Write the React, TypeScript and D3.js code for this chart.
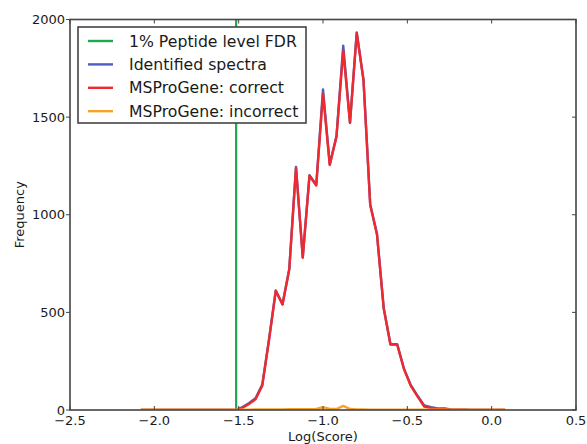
import React, { useEffect, useRef } from "react";
import * as d3 from "d3";

const W = 587;
const H = 444;

const binCenters = [
  -2.08, -2.04, -2.0, -1.96, -1.92, -1.88, -1.84, -1.8, -1.76, -1.72, -1.68, -1.64, -1.6, -1.56, -1.52,
  -1.48, -1.44, -1.4, -1.36, -1.32, -1.28, -1.24, -1.2, -1.16, -1.12, -1.08, -1.04, -1.0, -0.96, -0.92,
  -0.88, -0.84, -0.8, -0.76, -0.72, -0.68, -0.64, -0.6, -0.56, -0.52, -0.48, -0.44, -0.4, -0.36, -0.32,
  -0.28, -0.24, -0.2, -0.16, -0.12, -0.08, -0.04, 0.0, 0.04, 0.08,
];

const identifiedSpectra = [
  0, 0, 0, 0, 0, 0, 0, 0, 0, 0, 0, 0, 0, 0, 0,
  14, 35, 60, 130, 362, 612, 542, 722, 1245, 782, 1203, 1153, 1642, 1258, 1403,
  1866, 1472, 1934, 1692, 1052, 902, 522, 337, 337, 212, 128, 74, 24, 14, 8,
  8, 3, 2, 1, 0, 0, 0, 0, 0, 0,
];

const correctHits = [
  0, 0, 0, 0, 0, 0, 0, 0, 0, 0, 0, 0, 0, 0, 0,
  10, 30, 55, 125, 360, 610, 540, 720, 1240, 780, 1200, 1150, 1620, 1255, 1400,
  1840, 1470, 1930, 1690, 1050, 900, 520, 335, 335, 210, 125, 70, 18, 10, 4,
  6, 2, 2, 1, 0, 0, 0, 0, 0, 0,
];

const incorrectHits = [
  1, 1, 1, 1, 1, 1, 1, 1, 1, 1, 1, 1, 1, 1, 1,
  2, 2, 3, 3, 3, 3, 3, 4, 4, 4, 4, 5, 14, 5, 5,
  21, 5, 3, 3, 2, 2, 2, 2, 2, 1, 1, 1, 1, 1, 1,
  1, 1, 1, 1, 1, 1, 1, 1, 1, 1,
];

const fdrThreshold = -1.515;

const xTicks = [-2.5, -2.0, -1.5, -1.0, -0.5, 0.0, 0.5];
const yTicks = [0, 500, 1000, 1500, 2000];

const legendLabels = [
  "1% Peptide level FDR",
  "Identified spectra",
  "MSProGene: correct",
  "MSProGene: incorrect",
];
const seriesColors = ["#1fa84f", "#4a5fc1", "#ee2a2e", "#f9a12a"];

export default function App() {
  const ref = useRef<SVGSVGElement | null>(null);

  useEffect(() => {
    const svg = d3.select(ref.current);
    svg.selectAll("*").remove();

    const m = { left: 70, right: 576, top: 19.5, bottom: 410 };
    const x = d3.scaleLinear().domain([-2.5, 0.5]).range([m.left, m.right]);
    const y = d3.scaleLinear().domain([0, 2000]).range([m.bottom, m.top]);
    const font = "DejaVu Sans";
    const textColor = "#1a1a1a";

    svg.append("rect").attr("width", W).attr("height", H).attr("fill", "#fff");

    svg
      .append("defs")
      .append("clipPath")
      .attr("id", "plotclip")
      .append("rect")
      .attr("x", m.left)
      .attr("y", m.top)
      .attr("width", m.right - m.left)
      .attr("height", m.bottom - m.top);

    const plot = svg.append("g").attr("clip-path", "url(#plotclip)");

    plot
      .append("line")
      .attr("x1", x(fdrThreshold))
      .attr("x2", x(fdrThreshold))
      .attr("y1", y(0))
      .attr("y2", y(2000))
      .attr("stroke", seriesColors[0])
      .attr("stroke-width", 2.2);

    const series = [identifiedSpectra, correctHits, incorrectHits];
    series.forEach((vals, i) => {
      const line = d3
        .line<number>()
        .x((_, j) => x(binCenters[j]))
        .y((d) => y(d));
      plot
        .append("path")
        .attr("d", line(vals) as string)
        .attr("fill", "none")
        .attr("stroke", seriesColors[i + 1])
        .attr("stroke-width", 2.4)
        .attr("stroke-linejoin", "round");
    });

    const frameColor = "#444";
    const tickLen = 4;
    const g = svg.append("g");

    xTicks.forEach((t) => {
      const px = x(t);
      g.append("line").attr("x1", px).attr("x2", px).attr("y1", m.bottom).attr("y2", m.bottom - tickLen).attr("stroke", frameColor).attr("stroke-width", 1);
      g.append("line").attr("x1", px).attr("x2", px).attr("y1", m.top).attr("y2", m.top + tickLen).attr("stroke", frameColor).attr("stroke-width", 1);
      g.append("text")
        .attr("x", px)
        .attr("y", 425)
        .attr("text-anchor", "middle")
        .attr("font-family", font)
        .attr("font-size", 13)
        .attr("fill", textColor)
        .text(d3.format(".1f")(t).replace("-", "\u2212"));
    });

    yTicks.forEach((t) => {
      const py = y(t);
      g.append("line").attr("x1", m.left - tickLen).attr("x2", m.left).attr("y1", py).attr("y2", py).attr("stroke", frameColor).attr("stroke-width", 1);
      g.append("line").attr("x1", m.right).attr("x2", m.right - tickLen).attr("y1", py).attr("y2", py).attr("stroke", frameColor).attr("stroke-width", 1);
      g.append("text")
        .attr("x", m.left - 5)
        .attr("y", py + 4.5)
        .attr("text-anchor", "end")
        .attr("font-family", font)
        .attr("font-size", 13)
        .attr("fill", textColor)
        .text(String(t));
    });

    g.append("rect")
      .attr("x", m.left)
      .attr("y", m.top)
      .attr("width", m.right - m.left)
      .attr("height", m.bottom - m.top)
      .attr("fill", "none")
      .attr("stroke", frameColor)
      .attr("stroke-width", 1.6);

    g.append("text")
      .attr("x", (m.left + m.right) / 2)
      .attr("y", 441)
      .attr("text-anchor", "middle")
      .attr("font-family", font)
      .attr("font-size", 13)
      .attr("fill", textColor)
      .text("Log(Score)");

    g.append("text")
      .attr("transform", `translate(24, ${(m.top + m.bottom) / 2}) rotate(-90)`)
      .attr("text-anchor", "middle")
      .attr("font-family", font)
      .attr("font-size", 13)
      .attr("fill", textColor)
      .text("Frequency");

    const lg = svg.append("g");
    lg.append("rect")
      .attr("x", 78)
      .attr("y", 27)
      .attr("width", 228)
      .attr("height", 96)
      .attr("fill", "#fff")
      .attr("stroke", frameColor)
      .attr("stroke-width", 1.6);
    legendLabels.forEach((lab, i) => {
      const ly = 41 + i * 23.4;
      lg.append("line")
        .attr("x1", 88)
        .attr("x2", 113)
        .attr("y1", ly)
        .attr("y2", ly)
        .attr("stroke", seriesColors[i])
        .attr("stroke-width", 2.4);
      lg.append("text")
        .attr("x", 129)
        .attr("y", ly + 5.6)
        .attr("font-family", font)
        .attr("font-size", 15.7)
        .attr("fill", textColor)
        .text(lab);
    });
  }, []);

  return (
    <svg
      ref={ref}
      width={W}
      height={H}
      style={{ position: "absolute", left: 0, top: 0, display: "block" }}
    />
  );
}
